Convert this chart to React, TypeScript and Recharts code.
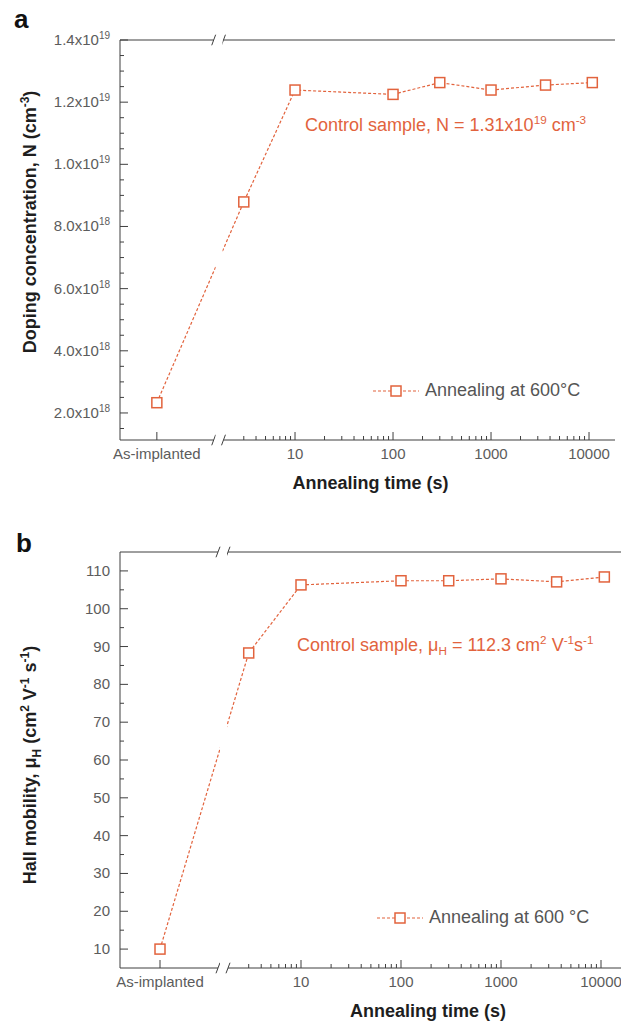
import type { ReactNode } from "react";
import {
  LineChart,
  Line,
  XAxis,
  YAxis,
  ReferenceLine,
  ReferenceArea,
  Legend,
} from "recharts";

const FONT = "'Liberation Sans', Arial, Helvetica, sans-serif";
const ORANGE = "#e2633d";
const AXIS = "#3f3f3f";
const TICK_TEXT = "#5c5c5c";
const TITLE_TEXT = "#1e1e1e";

// annealing times (s), first point is the as-implanted sample
const TIMES: (string | number)[] = ["As-implanted", 3, 10, 100, 300, 1000, 3600, 10800];
const DOPING = [2.33e18, 8.79e18, 1.239e19, 1.225e19, 1.263e19, 1.239e19, 1.255e19, 1.263e19];
const MOBILITY = [10, 88.3, 106.3, 107.4, 107.4, 107.9, 107.1, 108.4];

const X_LABELS = ["As-implanted", "10", "100", "1000", "10000"];
const DOPING_TICKS = [2e18, 4e18, 6e18, 8e18, 1e19, 1.2e19, 1.4e19];
const MOBILITY_TICKS = [10, 20, 30, 40, 50, 60, 70, 80, 90, 100, 110];

// x axis runs in log10(time); the as-implanted point sits left of the axis break
const AS_POS = -0.41;
const BREAK = [0.17, 0.27];
const X_MAJOR = [AS_POS, 1, 2, 3, 4];
const X_MINOR: number[] = [];
for (let d = 0; d <= 3; d++) {
  for (let k = d === 0 ? 3 : 2; k <= 9; k++) X_MINOR.push(d + Math.log10(k));
}
const X_TICKS = [...X_MAJOR, ...X_MINOR].sort((a, b) => a - b);

const DOPING_MINOR: number[] = [];
for (let i = 3; i <= 27; i++) if (i % 4 !== 0) DOPING_MINOR.push(i * 5e17);
const MOBILITY_MINOR: number[] = [];
for (let v = 15; v <= 105; v += 10) MOBILITY_MINOR.push(v);

const xPos = (t: string | number) => (typeof t === "number" ? Math.log10(t) : AS_POS);
const dopingData = TIMES.map((t, i) => ({ pos: xPos(t), value: DOPING[i] }));
const mobilityData = TIMES.map((t, i) => ({ pos: xPos(t), value: MOBILITY[i] }));

const majorIndex = (list: number[], v: number) =>
  list.findIndex((m) => Math.abs(m - v) <= Math.abs(m) * 1e-9 + 1e-9);

const sci = (v: number) => {
  const exp = Math.floor(Math.log10(v) + 1e-9);
  const man = (v / Math.pow(10, exp)).toFixed(1);
  return (
    <>
      {man}x10
      <tspan dy={-6} fontSize={10}>
        {exp}
      </tspan>
    </>
  );
};

const SquareDot = (props: any) => {
  const { cx, cy, index } = props;
  if (cx == null || cy == null) return <g key={index} />;
  return (
    <rect
      key={index}
      x={cx - 5}
      y={cy - 5}
      width={10}
      height={10}
      fill="#fff"
      stroke={ORANGE}
      strokeWidth={1.5}
    />
  );
};

const LegendEntry = (props: any) => {
  const label = props.payload?.[0]?.value;
  return (
    <div
      style={{
        display: "flex",
        alignItems: "center",
        fontFamily: FONT,
        fontSize: 18,
        color: "#555",
        whiteSpace: "nowrap",
      }}
    >
      <svg width={46} height={14}>
        <line x1={0} x2={46} y1={7} y2={7} stroke={ORANGE} strokeDasharray="3 2" strokeWidth={1.2} />
        <rect x={18} y={2} width={10} height={10} fill="#fff" stroke={ORANGE} strokeWidth={1.5} />
      </svg>
      <span style={{ marginLeft: 6 }}>{label}</span>
    </div>
  );
};

type PanelProps = {
  data: { pos: number; value: number }[];
  width: number;
  height: number;
  marginTop: number;
  xAxisHeight: number;
  xMin: number;
  xMax: number;
  yMin: number;
  yMax: number;
  yMajor: number[];
  yMinor: number[];
  formatY: (v: number) => ReactNode;
  slashDy: number;
  name: string;
  legendPos: { left: number; top: number };
  yTitle: ReactNode;
  yTitleShift: number;
  xTitleShift: number;
  xTitleY: number;
};

const Panel = (p: PanelProps) => {
  const yTicks = [...p.yMajor, ...p.yMinor].sort((a, b) => a - b);

  const bottomTick = ({ x, y, payload }: any) => {
    const idx = majorIndex(X_MAJOR, payload.value);
    return (
      <g>
        <line x1={x} x2={x} y1={y} y2={y - (idx >= 0 ? 8 : 4)} stroke={AXIS} />
        {idx >= 0 && (
          <text x={x} y={y + 19} textAnchor="middle" fontSize={15} fontFamily={FONT} fill={TICK_TEXT}>
            {X_LABELS[idx]}
          </text>
        )}
      </g>
    );
  };
  const topTick = ({ x, y, payload }: any) => {
    const major = majorIndex(X_MAJOR, payload.value) >= 0;
    return <line x1={x} x2={x} y1={y} y2={y + (major ? 8 : 4)} stroke={AXIS} />;
  };
  const leftTick = ({ x, y, payload }: any) => {
    const major = majorIndex(p.yMajor, payload.value) >= 0;
    return (
      <g>
        <line x1={x} x2={x + (major ? 8 : 4)} y1={y} y2={y} stroke={AXIS} />
        {major && (
          <text x={x - 10} y={y} dy={5} textAnchor="end" fontSize={15} fontFamily={FONT} fill={TICK_TEXT}>
            {p.formatY(payload.value)}
          </text>
        )}
      </g>
    );
  };
  const rightTick = ({ x, y, payload }: any) => {
    const major = majorIndex(p.yMajor, payload.value) >= 0;
    return <line x1={x} x2={x - (major ? 8 : 4)} y1={y} y2={y} stroke={AXIS} />;
  };

  const xTitle = (lp: any) => {
    const vb = lp.viewBox || { x: 120, y: 0, width: 500 };
    return (
      <text
        x={vb.x + vb.width / 2 + p.xTitleShift}
        y={vb.y + p.xTitleY}
        textAnchor="middle"
        fontSize={18}
        fontWeight="bold"
        fontFamily={FONT}
        fill={TITLE_TEXT}
      >
        Annealing time (s)
      </text>
    );
  };
  const yTitle = (lp: any) => {
    const vb = lp.viewBox || { x: 0, y: 0, width: 120, height: 400 };
    const cx = vb.x + 30;
    const cy = vb.y + vb.height / 2 + p.yTitleShift;
    return (
      <text
        x={cx}
        y={cy + 6}
        transform={`rotate(-90, ${cx}, ${cy})`}
        textAnchor="middle"
        fontSize={18}
        fontWeight="bold"
        fontFamily={FONT}
        fill={TITLE_TEXT}
      >
        {p.yTitle}
      </text>
    );
  };

  const slashes = [p.yMin, p.yMax].flatMap((yv) =>
    BREAK.map((bx) => (
      <ReferenceLine
        key={`s-${yv}-${bx}`}
        segment={[
          { x: bx - 0.02, y: yv - p.slashDy },
          { x: bx + 0.02, y: yv + p.slashDy },
        ]}
        stroke={AXIS}
        strokeWidth={1}
        ifOverflow="visible"
      />
    ))
  );
  const frame = [p.yMin, p.yMax].flatMap((yv) => [
    <ReferenceLine
      key={`fl-${yv}`}
      segment={[
        { x: p.xMin, y: yv },
        { x: BREAK[0], y: yv },
      ]}
      stroke={AXIS}
      ifOverflow="visible"
    />,
    <ReferenceLine
      key={`fr-${yv}`}
      segment={[
        { x: BREAK[1], y: yv },
        { x: p.xMax, y: yv },
      ]}
      stroke={AXIS}
      ifOverflow="visible"
    />,
  ]);

  return (
    <LineChart
      width={p.width}
      height={p.height}
      data={p.data}
      margin={{ top: p.marginTop, right: 6, left: 0, bottom: 0 }}
    >
      <XAxis
        dataKey="pos"
        type="number"
        domain={[p.xMin, p.xMax]}
        allowDataOverflow
        ticks={X_TICKS}
        interval={0}
        tickSize={0}
        tickMargin={0}
        tickLine={false}
        axisLine={false}
        height={p.xAxisHeight}
        tick={bottomTick}
        label={xTitle}
      />
      <XAxis
        xAxisId="top"
        orientation="top"
        type="number"
        domain={[p.xMin, p.xMax]}
        allowDataOverflow
        ticks={X_TICKS}
        interval={0}
        tickSize={0}
        tickMargin={0}
        tickLine={false}
        axisLine={false}
        height={0}
        tick={topTick}
      />
      <YAxis
        type="number"
        domain={[p.yMin, p.yMax]}
        allowDataOverflow
        ticks={yTicks}
        interval={0}
        tickSize={0}
        tickMargin={0}
        tickLine={false}
        axisLine={{ stroke: AXIS }}
        width={120}
        tick={leftTick}
        label={yTitle}
      />
      <YAxis
        yAxisId="right"
        orientation="right"
        type="number"
        domain={[p.yMin, p.yMax]}
        allowDataOverflow
        ticks={yTicks}
        interval={0}
        tickSize={0}
        tickMargin={0}
        tickLine={false}
        axisLine={{ stroke: AXIS }}
        width={0}
        tick={rightTick}
      />
      {frame}
      {slashes}
      <Line
        type="linear"
        dataKey="value"
        name={p.name}
        stroke={ORANGE}
        strokeWidth={1.2}
        strokeDasharray="3 2"
        dot={SquareDot}
        activeDot={false}
        isAnimationActive={false}
      />
      <ReferenceArea
        x1={0.19}
        x2={0.26}
        fill="#fff"
        fillOpacity={1}
        stroke="none"
        zIndex={600}
      />
      <Legend
        layout="horizontal"
        verticalAlign="middle"
        align="center"
        content={LegendEntry}
        wrapperStyle={{ left: p.legendPos.left, top: p.legendPos.top, width: "auto" }}
      />
    </LineChart>
  );
};

const supStyle = { fontSize: "0.65em", position: "relative" as const, top: "-0.6em" };
const subStyle = { fontSize: "0.65em", position: "relative" as const, top: "0.35em" };

const App = () => {
  return (
    <div
      style={{
        position: "absolute",
        left: 0,
        top: 0,
        width: 621,
        height: 1022,
        overflow: "hidden",
        background: "#fff",
        fontFamily: FONT,
      }}
    >
      <div style={{ position: "absolute", left: 0, top: 0, width: 621, height: 500 }}>
        <Panel
          data={dopingData}
          width={621}
          height={500}
          marginTop={40}
          xAxisHeight={60}
          xMin={-0.786}
          xMax={4.265}
          yMin={1.13e18}
          yMax={1.4e19}
          yMajor={DOPING_TICKS}
          yMinor={DOPING_MINOR}
          formatY={sci}
          slashDy={1.7e17}
          name="Annealing at 600°C"
          legendPos={{ left: 373, top: 380 }}
          yTitle={
            <>
              Doping concentration, N (cm
              <tspan dy={-7} fontSize={12}>
                -3
              </tspan>
              <tspan dy={7}>)</tspan>
            </>
          }
          yTitleShift={-18}
          xTitleShift={3}
          xTitleY={49}
        />
        <div
          style={{
            position: "absolute",
            left: 14,
            top: 6,
            fontSize: 26,
            lineHeight: "26px",
            fontWeight: "bold",
            color: "#111",
          }}
        >
          a
        </div>
        <div
          style={{
            position: "absolute",
            left: 305,
            top: 116,
            fontSize: 18,
            lineHeight: "18px",
            color: ORANGE,
            whiteSpace: "nowrap",
          }}
        >
          Control sample, N = 1.31x10<span style={supStyle}>19</span> cm
          <span style={supStyle}>-3</span>
        </div>
      </div>
      <div style={{ position: "absolute", left: 0, top: 500, width: 621, height: 522, overflow: "hidden" }}>
        <Panel
          data={mobilityData}
          width={632}
          height={522}
          marginTop={52}
          xAxisHeight={54}
          xMin={-0.81}
          xMax={4.25}
          yMin={5}
          yMax={115}
          yMajor={MOBILITY_TICKS}
          yMinor={MOBILITY_MINOR}
          formatY={(v) => String(v)}
          slashDy={1.4}
          name="Annealing at 600 °C"
          legendPos={{ left: 377, top: 407 }}
          yTitle={
            <>
              Hall mobility, μ
              <tspan dy={5} fontSize={12}>
                H
              </tspan>
              <tspan dy={-5}> (cm</tspan>
              <tspan dy={-7} fontSize={12}>
                2
              </tspan>
              <tspan dy={7}> V</tspan>
              <tspan dy={-7} fontSize={12}>
                -1
              </tspan>
              <tspan dy={7}> s</tspan>
              <tspan dy={-7} fontSize={12}>
                -1
              </tspan>
              <tspan dy={7}>)</tspan>
            </>
          }
          yTitleShift={5}
          xTitleShift={55}
          xTitleY={49}
        />
        <div
          style={{
            position: "absolute",
            left: 16,
            top: 30,
            fontSize: 26,
            lineHeight: "26px",
            fontWeight: "bold",
            color: "#111",
          }}
        >
          b
        </div>
        <div
          style={{
            position: "absolute",
            left: 297,
            top: 136,
            fontSize: 18,
            lineHeight: "18px",
            color: ORANGE,
            whiteSpace: "nowrap",
          }}
        >
          Control sample, μ<span style={subStyle}>H</span> = 112.3 cm
          <span style={supStyle}>2</span> V<span style={supStyle}>-1</span>s
          <span style={supStyle}>-1</span>
        </div>
      </div>
    </div>
  );
};

export default App;
